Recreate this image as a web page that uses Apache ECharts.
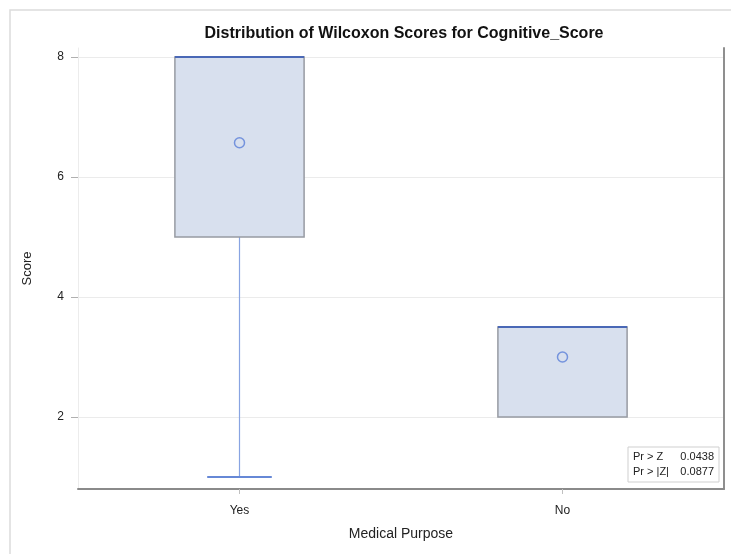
<!DOCTYPE html>
<html>
<head>
<meta charset="utf-8">
<script src="https://cdn.jsdelivr.net/npm/echarts@6/dist/echarts.min.js"></script>
<style>
  html, body { margin: 0; padding: 0; background: #ffffff; }
  #chart { width: 731px; height: 554px; }
</style>
</head>
<body>
<div id="chart"></div>
<script>
// Wilcoxon score summary per group
const categories = ['Yes', 'No'];
const whiskerLow = [1, 2];
const quartile1 = [5, 2];
const medians = [8, 3.5];
const quartile3 = [8, 3.5];
const whiskerHigh = [8, 3.5];
const means = [6.57, 3.0];
const yTicks = [2, 4, 6, 8];
const testRows = [['Pr > Z', '0.0438'], ['Pr > |Z|', '0.0877']];

const FONT = '"Liberation Sans", Arial, sans-serif';
const boxData = categories.map((c, i) => [i, whiskerLow[i], quartile1[i], medians[i], quartile3[i], whiskerHigh[i]]);

function renderBox(params, api) {
  const idx = api.value(0);
  const lo = api.coord([idx, api.value(1)]);
  const q1 = api.coord([idx, api.value(2)]);
  const med = api.coord([idx, api.value(3)]);
  const q3 = api.coord([idx, api.value(4)]);
  const hi = api.coord([idx, api.value(5)]);
  const band = api.size([1, 0])[0];
  const w = band * 0.4;
  const cx = lo[0];
  const x0 = cx - w / 2;
  const capW = w / 2;
  const whiskerStyle = { stroke: '#88a4e2', lineWidth: 1.2 };
  const children = [];
  // lower whisker
  if (lo[1] - q1[1] > 0.5) {
    children.push({ type: 'line', shape: { x1: cx, y1: q1[1], x2: cx, y2: lo[1] }, style: whiskerStyle });
    children.push({ type: 'line', shape: { x1: cx - capW / 2, y1: lo[1], x2: cx + capW / 2, y2: lo[1] }, style: { stroke: '#6688d6', lineWidth: 2 } });
  }
  // upper whisker
  if (q3[1] - hi[1] > 0.5) {
    children.push({ type: 'line', shape: { x1: cx, y1: q3[1], x2: cx, y2: hi[1] }, style: whiskerStyle });
    children.push({ type: 'line', shape: { x1: cx - capW / 2, y1: hi[1], x2: cx + capW / 2, y2: hi[1] }, style: { stroke: '#6688d6', lineWidth: 2 } });
  }
  // box
  children.push({
    type: 'rect',
    shape: { x: x0, y: q3[1], width: w, height: q1[1] - q3[1] },
    style: { fill: '#d8e0ee', stroke: '#979ba3', lineWidth: 1.5 }
  });
  // median
  children.push({ type: 'line', shape: { x1: x0, y1: med[1], x2: x0 + w, y2: med[1] }, style: { stroke: '#4a68b6', lineWidth: 1.8 } });
  return { type: 'group', children };
}

const chart = echarts.init(document.getElementById('chart'), null, { renderer: 'canvas' });
chart.setOption({
  backgroundColor: '#ffffff',
  animation: false,
  title: {
    text: 'Distribution of Wilcoxon Scores for Cognitive_Score',
    left: 399, top: 21, textAlign: 'center',
    textStyle: { fontFamily: FONT, fontSize: 16, fontWeight: 'bold', color: '#111' }
  },
  grid: { left: 78, right: 7, top: 48, bottom: 65, show: false },
  xAxis: {
    type: 'category',
    data: categories,
    boundaryGap: true,
    name: 'Medical Purpose',
    nameLocation: 'middle',
    nameGap: 38,
    nameTextStyle: { fontFamily: FONT, fontSize: 14, color: '#222' },
    axisLine: { show: true, lineStyle: { color: '#8a8a8a', width: 2 } },
    axisTick: { show: true, alignWithLabel: true, length: 5, lineStyle: { color: '#c0c0c0' } },
    axisLabel: { fontFamily: FONT, fontSize: 12, color: '#222', margin: 16 },
    splitLine: { show: false }
  },
  yAxis: [{
    type: 'value',
    min: 0.8, max: 8.15,
    name: 'Score',
    nameLocation: 'middle',
    nameGap: 44,
    nameRotate: 90,
    nameTextStyle: { fontFamily: FONT, fontSize: 13, color: '#222' },
    axisLine: { show: true, lineStyle: { color: '#ececec', width: 1 } },
    axisTick: { show: true, length: 7, customValues: yTicks, lineStyle: { color: '#b0b0b0' } },
    axisLabel: { fontFamily: FONT, fontSize: 12, color: '#222', margin: 14, customValues: yTicks },
    splitLine: { show: true, lineStyle: { color: '#ebebeb', width: 1 } }
  }, {
    type: 'value',
    position: 'right',
    min: 0.8, max: 8.15,
    axisLine: { show: true, lineStyle: { color: '#8f8f8f', width: 2 } },
    axisTick: { show: false },
    axisLabel: { show: false },
    splitLine: { show: false }
  }],
  series: [{
    type: 'custom',
    renderItem: renderBox,
    encode: { x: 0, y: [1, 2, 3, 4, 5] },
    data: boxData,
    z: 3
  }, {
    type: 'scatter',
    data: categories.map((c, i) => [i, means[i]]),
    symbol: 'circle',
    symbolSize: 10,
    itemStyle: { color: 'rgba(0,0,0,0)', borderColor: '#5b7fd8', borderWidth: 1.5 },
    z: 5
  }],
  graphic: [
    {
      type: 'rect', silent: true,
      shape: { x: 10, y: 10, width: 740, height: 560 },
      style: { fill: 'none', stroke: '#dcdcdc', lineWidth: 1.5 }, z: -1
    },
    {
      type: 'rect', silent: true,
      shape: { x: 628, y: 447, width: 91, height: 35 },
      style: { fill: '#ffffff', stroke: '#cfcfcf', lineWidth: 1 }, z: 10
    },
    ...testRows.map((r, i) => ({
      type: 'text', silent: true, z: 11,
      x: 633, y: 451 + i * 15,
      style: { text: r[0], fontFamily: FONT, fontSize: 11, fill: '#222' }
    })),
    ...testRows.map((r, i) => ({
      type: 'text', silent: true, z: 11,
      x: 714, y: 451 + i * 15,
      style: { text: r[1], fontFamily: FONT, fontSize: 11, fill: '#222', align: 'right' }
    }))
  ]
});
</script>
</body>
</html>
